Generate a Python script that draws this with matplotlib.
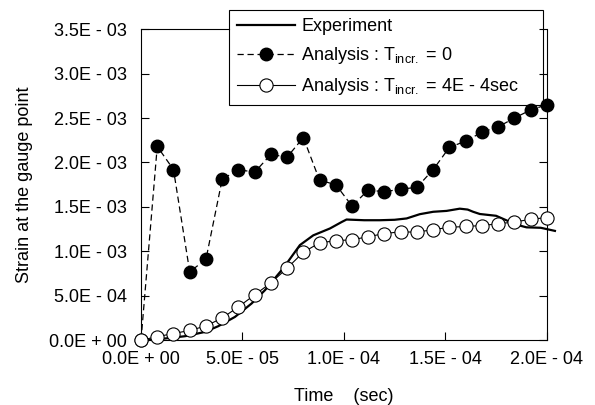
import matplotlib.pyplot as plt

plt.rcParams['font.family'] = ['Liberation Sans', 'DejaVu Sans']
plt.rcParams['mathtext.fontset'] = 'custom'
plt.rcParams['mathtext.rm'] = 'Liberation Sans'

# experiment (strain gauge)
exp_t = [0.0, 0.6e-5, 1.18e-5, 2.17e-5, 3.15e-5, 3.81e-5, 4.63e-5, 5.45e-5, 6.11e-5,
         7.01e-5, 7.83e-5, 8.49e-5, 9.31e-5, 9.89e-5, 1.013e-4, 1.1e-4, 1.177e-4,
         1.25e-4, 1.309e-4, 1.374e-4, 1.44e-4, 1.506e-4, 1.571e-4, 1.61e-4, 1.637e-4,
         1.67e-4, 1.75e-4, 1.80e-4, 1.85e-4, 1.90e-4, 1.97e-4, 2.04e-4]
exp_strain = [0.0, 0.005e-3, 0.019e-3, 0.045e-3, 0.093e-3, 0.158e-3, 0.262e-3, 0.413e-3, 0.563e-3,
              0.81e-3, 1.07e-3, 1.18e-3, 1.257e-3, 1.33e-3, 1.358e-3, 1.35e-3, 1.35e-3,
              1.355e-3, 1.37e-3, 1.418e-3, 1.445e-3, 1.455e-3, 1.48e-3, 1.47e-3, 1.445e-3,
              1.42e-3, 1.40e-3, 1.35e-3, 1.30e-3, 1.27e-3, 1.265e-3, 1.23e-3]

# analysis time steps
t_an = [0.0, 0.8e-5, 1.6e-5, 2.4e-5, 3.2e-5, 4.0e-5, 4.8e-5, 5.6e-5, 6.4e-5, 7.2e-5,
        8.0e-5, 8.8e-5, 9.6e-5, 1.04e-4, 1.12e-4, 1.20e-4, 1.28e-4, 1.36e-4, 1.44e-4,
        1.52e-4, 1.60e-4, 1.68e-4, 1.76e-4, 1.84e-4, 1.92e-4, 2.00e-4]

# Tincr = 0
strain_t0 = [0.0, 2.18e-3, 1.92e-3, 0.77e-3, 0.91e-3, 1.81e-3, 1.92e-3, 1.89e-3, 2.09e-3,
             2.06e-3, 2.28e-3, 1.80e-3, 1.75e-3, 1.51e-3, 1.69e-3, 1.67e-3, 1.70e-3,
             1.72e-3, 1.92e-3, 2.17e-3, 2.24e-3, 2.34e-3, 2.40e-3, 2.50e-3, 2.59e-3, 2.65e-3]

# Tincr = 4E-4 sec
strain_t4 = [0.0, 0.04e-3, 0.075e-3, 0.11e-3, 0.16e-3, 0.25e-3, 0.375e-3, 0.51e-3, 0.645e-3,
             0.81e-3, 0.99e-3, 1.095e-3, 1.12e-3, 1.13e-3, 1.165e-3, 1.20e-3, 1.22e-3,
             1.215e-3, 1.245e-3, 1.27e-3, 1.28e-3, 1.29e-3, 1.31e-3, 1.33e-3, 1.36e-3, 1.38e-3]

xticks = [0, 5e-5, 1e-4, 1.5e-4, 2e-4]
xticklabels = ['0.0E + 00', '5.0E - 05', '1.0E - 04', '1.5E - 04', '2.0E - 04']
yticks = [0, 5e-4, 1e-3, 1.5e-3, 2e-3, 2.5e-3, 3e-3, 3.5e-3]
yticklabels = ['0.0E + 00', '5.0E - 04', '1.0E - 03', '1.5E - 03', '2.0E - 03',
               '2.5E - 03', '3.0E - 03', '3.5E - 03']

fs = 13

fig = plt.figure(figsize=(5.95, 4.05), dpi=100)
ax = fig.add_axes([0.237, 0.160, 0.682, 0.768])
ax.patch.set_visible(False)  # so the legend can sit behind the markers

ax.plot(exp_t, exp_strain, color='black', lw=1.6, label='Experiment', clip_on=False, zorder=3)
ax.plot(t_an, strain_t0, color='black', lw=0.9, ls=(0, (5, 3)), marker='o', ms=9,
        mfc='black', mec='black', label=r'Analysis : T$_{\mathregular{incr.}}$ = 0',
        clip_on=False, zorder=4)
ax.plot(t_an, strain_t4, color='black', lw=0.8, marker='o', ms=9.5, mfc='white',
        mec='black', mew=0.8, label=r'Analysis : T$_{\mathregular{incr.}}$ = 4E - 4sec',
        clip_on=False, zorder=5)

ax.set_xlim(0, 2e-4)
ax.set_ylim(0, 3.5e-3)
ax.set_xticks(xticks)
ax.set_xticklabels(xticklabels)
ax.set_yticks(yticks)
ax.set_yticklabels(yticklabels)
ax.tick_params(axis='both', direction='in', length=6, width=0.8, labelsize=fs)
ax.tick_params(axis='y', right=True, pad=10)
ax.tick_params(axis='x', pad=8)
for s in ax.spines.values():
    s.set_linewidth(0.8)
# top spine stops where the legend box starts
ax.spines['top'].set_bounds(0, 4.33e-5)

ax.set_xlabel('Time    (sec)', fontsize=fs, labelpad=14)
ax.set_ylabel('Strain at the gauge point', fontsize=fs, labelpad=12)

# legend box: x 229..543 px, y 10..106 px
leg = fig.legend(loc='upper left', bbox_to_anchor=(229 / 595, 1 - 106 / 405, 314 / 595, 96 / 405),
                 mode='expand', fontsize=fs, frameon=True, fancybox=False, framealpha=1,
                 handlelength=3.2, borderpad=0.45, labelspacing=0.55, handletextpad=0.35,
                 borderaxespad=0)
leg.get_frame().set_edgecolor('black')
leg.get_frame().set_linewidth(0.8)
leg.set_zorder(-1)

fig.savefig('out.png', dpi=100)
